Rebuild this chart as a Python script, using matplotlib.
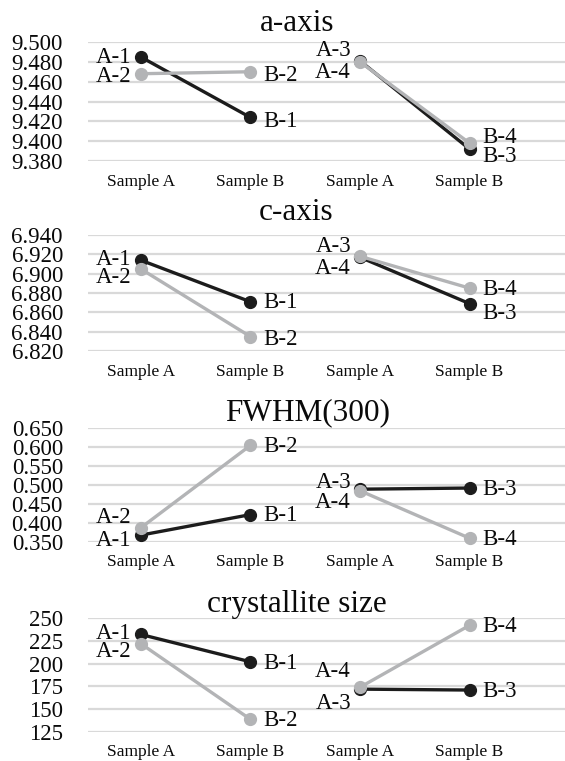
import numpy as np
import matplotlib
matplotlib.use("Agg")
import matplotlib.pyplot as plt

plt.rcParams['font.family'] = ['Liberation Serif', 'DejaVu Serif']

# categories on the x axis (two pairs of samples)
categories = ["Sample A", "Sample B", "Sample A", "Sample B"]

# black series: A-1 -> B-1, A-3 -> B-3 ; gray series: A-2 -> B-2, A-4 -> B-4
black_names = ["A-1", "B-1", "A-3", "B-3"]
gray_names = ["A-2", "B-2", "A-4", "B-4"]

titles = ["a-axis", "c-axis", "FWHM(300)", "crystallite size"]

a_black = [9.485, 9.424, 9.481, 9.392]
a_gray = [9.468, 9.470, 9.480, 9.398]
c_black = [6.914, 6.871, 6.917, 6.869]
c_gray = [6.905, 6.835, 6.918, 6.885]
fwhm_black = [0.368, 0.422, 0.489, 0.492]
fwhm_gray = [0.387, 0.604, 0.485, 0.360]
size_black = [232, 202, 172, 171]
size_gray = [222, 139, 174, 242]

yticks = [
    np.arange(9.380, 9.5001, 0.020),
    np.arange(6.820, 6.9401, 0.020),
    np.arange(0.350, 0.6501, 0.050),
    np.arange(125, 251, 25),
]
yfmt = ["{:.3f}", "{:.3f}", "{:.3f}", "{:.0f}"]

BLACK = "#1c1c1c"
GRAY = "#b3b4b6"
GRID = "#d9d9d9"
TEXT = "#0a0a0a"

W, H = 565, 761
fig = plt.figure(figsize=(W / 100, H / 100), dpi=100)

# pixel layout of each panel: (top gridline, bottom gridline, title baseline, title x)
layout = [(42, 161, 31, 297), (235, 351, 220, 296), (428, 542, 420, 308), (618, 732, 612, 297)]
x_left = 88

# vertical offsets (px) for the point labels, per panel
label_dy = [
    {"A-1": 0, "A-2": -2, "B-1": -3, "B-2": -3, "A-3": 11, "A-4": -10, "B-4": 7, "B-3": -6},
    {"A-1": 2, "A-2": -8, "B-1": 0, "B-2": -2, "A-3": 12, "A-4": -11, "B-4": 0, "B-3": -9},
    {"A-2": 11, "A-1": -4, "B-2": 0, "B-1": 0, "A-3": 8, "A-4": -11, "B-3": 0, "B-4": 0},
    {"A-1": 2, "A-2": -7, "B-1": -1, "B-2": 0, "A-4": 17, "A-3": -13, "B-4": 0, "B-3": 0},
]

series = [(a_black, a_gray), (c_black, c_gray), (fwhm_black, fwhm_gray), (size_black, size_gray)]
x = np.arange(len(categories))

for i, (blk, gry) in enumerate(series):
    top, bot, tb, tx = layout[i]
    ax = fig.add_axes([x_left / W, 1 - bot / H, (W - x_left) / W, (bot - top) / H])
    ticks = yticks[i]
    ax.set_ylim(ticks[0], ticks[-1])
    ax.set_xlim(-0.48, 3.87)
    ax.set_yticks(ticks)
    ax.set_yticklabels([yfmt[i].format(t) for t in ticks], fontsize=16.5, color=TEXT)
    ax.set_xticks(x)
    ax.set_xticklabels(categories, fontsize=12.5, color=TEXT)
    ax.tick_params(axis='y', length=0, pad=18)
    ax.tick_params(axis='x', length=0, pad=9)
    for s in ax.spines.values():
        s.set_visible(False)
    ax.grid(axis='y', color=GRID, lw=1.6)
    ax.set_axisbelow(True)

    for vals, names, col in ((blk, black_names, BLACK), (gry, gray_names, GRAY)):
        for seg in (slice(0, 2), slice(2, 4)):
            ax.plot(x[seg], vals[seg], color=col, lw=2.4, marker='o', ms=8.5,
                    solid_capstyle='round', clip_on=False, zorder=3)
        for xi, v, nm in zip(x, vals, names):
            if nm.startswith("A"):
                dx, ha = -9, 'right'
            else:
                dx, ha = 13, 'left'
            ax.annotate(nm, (xi, v), xytext=(dx, label_dy[i][nm] - 1), textcoords='offset pixels',
                        ha=ha, va='center', fontsize=16.5, color=TEXT, zorder=4)

    fig.text(tx / W, 1 - tb / H, titles[i], ha='center', va='baseline', fontsize=22.5, color=TEXT)

fig.savefig("out.png", dpi=100)
